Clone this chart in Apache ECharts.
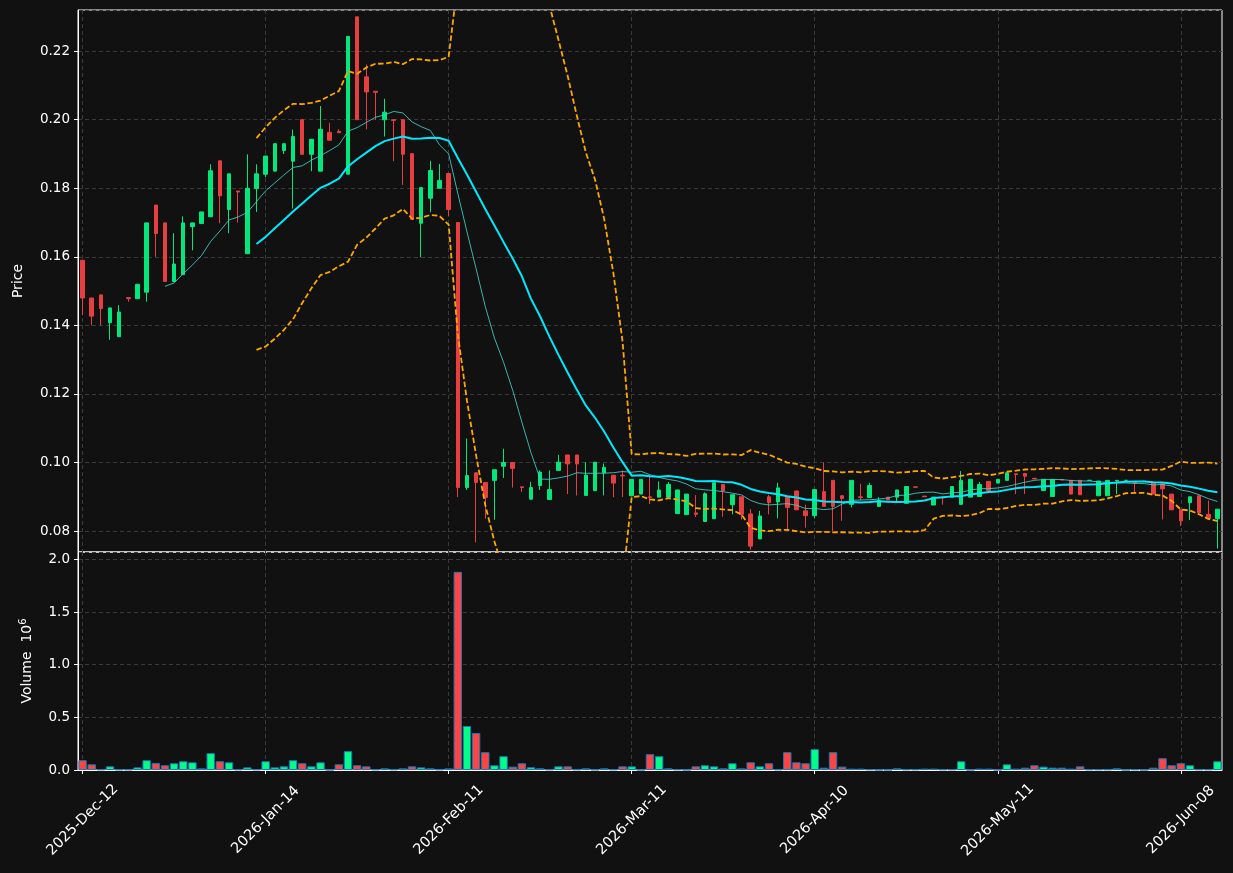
<!DOCTYPE html>
<html lang="en">
<head>
	<meta charset="UTF-8">
	<title>Candles</title>
	<style type="text/css">
		html, body { margin: 0; padding: 0; background: #111111; }
		#chart { width: 1233px; height: 873px; }
	</style>
</head>
<body>
	<div id="chart"></div>
	<script type="text/javascript" src="https://cdn.jsdelivr.net/npm/echarts@6/dist/echarts.min.js"></script>
	<script type="text/javascript">
	// price data, one value per trading day
	var opens = [0.159,0.148,0.1489,0.1408,0.1367,0.1481,0.1478,0.1497,0.1751,0.1699,
		0.1528,0.1548,0.1688,0.1697,0.1717,0.188,0.1738,0.1792,0.1609,0.1799,
		0.1841,0.185,0.191,0.1879,0.200,0.1899,0.185,0.1963,0.1966,0.1841,
		0.230,0.2125,0.2083,0.200,0.200,0.200,0.1901,0.1698,0.1771,0.180,
		0.1843,0.170,0.0927,0.0970,0.0942,0.0948,0.0989,0.1000,0.0929,0.0893,
		0.0933,0.0892,0.0977,0.1022,0.1022,0.0904,0.0918,0.0970,0.0963,0.0963,
		0.0903,0.0908,0.0900,0.0899,0.0899,0.0851,0.0848,0.0853,0.0828,0.0836,
		0.0936,0.0877,0.0900,0.0850,0.0777,0.0900,0.0885,0.0900,0.0917,0.0859,
		0.0845,0.0915,0.0948,0.0903,0.0878,0.0900,0.0898,0.0872,0.0899,0.0899,
		0.0881,0.0929,0.0902,0.0876,0.0899,0.0899,0.0878,0.0899,0.0901,0.0945,
		0.0940,0.0948,0.0967,0.0968,0.0954,0.0918,0.0901,0.0950,0.0948,0.0948,
		0.0948,0.0903,0.0903,0.0946,0.0948,0.0942,0.0945,0.0941,0.0938,0.0908,
		0.0862,0.0883,0.0903,0.0849,0.0836];
	var closes = [0.148,0.1427,0.1449,0.1451,0.1439,0.1478,0.152,0.1699,0.1668,0.1528,
		0.1579,0.1699,0.1699,0.1731,0.1851,0.1778,0.1842,0.1789,0.180,0.1842,
		0.1894,0.193,0.193,0.1951,0.1899,0.1943,0.1972,0.194,0.1962,0.2243,
		0.200,0.2081,0.208,0.2022,0.1998,0.1899,0.1709,0.1802,0.1852,0.1823,
		0.1738,0.0927,0.0962,0.0942,0.0898,0.0979,0.1000,0.0983,0.0927,0.0927,
		0.0972,0.0921,0.1001,0.0996,0.0996,0.0963,0.1001,0.0986,0.0940,0.0961,
		0.0951,0.0951,0.0898,0.0920,0.0936,0.0920,0.0908,0.0849,0.0909,0.0941,
		0.0918,0.0906,0.0849,0.0756,0.0844,0.0883,0.0926,0.0869,0.0862,0.0845,
		0.0921,0.0872,0.0872,0.0895,0.0948,0.0898,0.0933,0.0889,0.0891,0.0920,
		0.0930,0.0928,0.0900,0.0899,0.0897,0.0930,0.0948,0.0951,0.0936,0.0918,
		0.0951,0.0970,0.0965,0.0960,0.0952,0.0951,0.0951,0.0949,0.0908,0.0906,
		0.0948,0.0946,0.0948,0.0948,0.0948,0.0940,0.0945,0.0908,0.0923,0.0862,
		0.0830,0.0900,0.0854,0.0837,0.0864];
	var lows = [0.143,0.140,0.140,0.1358,0.1367,0.1469,0.1478,0.1469,0.160,0.1528,
		0.1528,0.1548,0.1619,0.1697,0.1717,0.1698,0.1669,0.1700,0.1609,0.1731,
		0.1832,0.185,0.190,0.1741,0.1899,0.185,0.185,0.194,0.1962,0.1841,
		0.200,0.1972,0.200,0.1951,0.1879,0.181,0.1709,0.1599,0.173,0.180,
		0.1719,0.0899,0.0920,0.0767,0.0836,0.0833,0.0955,0.0927,0.0914,0.0893,
		0.0920,0.0892,0.0977,0.0908,0.0904,0.0904,0.0918,0.0904,0.0899,0.0899,
		0.0903,0.0908,0.0879,0.0899,0.0899,0.0851,0.0848,0.0841,0.0828,0.0836,
		0.0842,0.0849,0.0834,0.0746,0.0777,0.0849,0.0837,0.0800,0.0862,0.0810,
		0.0837,0.0872,0.0800,0.0830,0.0869,0.0889,0.0898,0.0872,0.0891,0.0884,
		0.0881,0.0928,0.0900,0.0876,0.0877,0.0899,0.0878,0.0899,0.0901,0.0918,
		0.0940,0.0948,0.0908,0.0908,0.0952,0.0918,0.0901,0.0949,0.0908,0.0906,
		0.0948,0.0903,0.0903,0.0908,0.0948,0.0913,0.0945,0.0908,0.0834,0.0862,
		0.0815,0.0832,0.0854,0.0837,0.0749];
	var highs = [0.159,0.148,0.149,0.1451,0.1459,0.1481,0.152,0.170,0.1751,0.1699,
		0.1669,0.1718,0.170,0.1731,0.187,0.188,0.1842,0.1792,0.1899,0.187,
		0.1894,0.193,0.193,0.1971,0.200,0.1943,0.204,0.1991,0.1972,0.2243,
		0.230,0.2161,0.2083,0.2061,0.200,0.200,0.1901,0.1802,0.188,0.1871,
		0.1843,0.170,0.1070,0.0970,0.0942,0.0979,0.1040,0.1000,0.0929,0.0944,
		0.0977,0.0977,0.1022,0.1022,0.1022,0.1001,0.1001,0.0997,0.0963,0.0977,
		0.0951,0.0951,0.0958,0.0945,0.0943,0.0920,0.0908,0.0905,0.0913,0.0941,
		0.0936,0.0906,0.0900,0.0864,0.0859,0.0906,0.0941,0.0900,0.0917,0.0877,
		0.0921,0.1000,0.0948,0.0903,0.0948,0.0938,0.0941,0.0899,0.0899,0.0920,
		0.0930,0.0929,0.0902,0.0899,0.0899,0.0930,0.0975,0.0951,0.0943,0.0945,
		0.0951,0.0970,0.0967,0.0968,0.0954,0.0951,0.0951,0.0950,0.0948,0.0948,
		0.0948,0.0946,0.0948,0.0948,0.0948,0.0942,0.0945,0.0941,0.0938,0.0908,
		0.0862,0.0900,0.0903,0.0889,0.0864];
	// volume in millions
	var volumes = [0.093,0.054,0.006,0.035,0.005,0.005,0.025,0.093,0.067,0.045,
		0.064,0.083,0.073,0.016,0.160,0.083,0.073,0.006,0.025,0.006,
		0.083,0.025,0.035,0.093,0.064,0.035,0.073,0.002,0.054,0.179,
		0.045,0.035,0.006,0.016,0.006,0.016,0.035,0.025,0.016,0.006,
		0.016,1.882,0.418,0.351,0.169,0.045,0.131,0.032,0.064,0.026,
		0.016,0.006,0.035,0.035,0.006,0.016,0.004,0.016,0.006,0.035,
		0.035,0.002,0.150,0.131,0.016,0.006,0.002,0.035,0.045,0.035,
		0.016,0.064,0.016,0.073,0.035,0.064,0.006,0.169,0.073,0.064,
		0.198,0.022,0.169,0.032,0.013,0.013,0.006,0.002,0.002,0.016,
		0.006,0.006,0.013,0.013,0.006,0.006,0.083,0.002,0.013,0.013,
		0.002,0.054,0.013,0.022,0.045,0.032,0.022,0.022,0.013,0.035,
		0.006,0.006,0.006,0.016,0.002,0.006,0.002,0.022,0.112,0.045,
		0.064,0.045,0.006,0.006,0.083];
	// date labels shown every 20 bars
	var tickLabels = ['2025-Dec-12','2026-Jan-14','2026-Feb-11','2026-Mar-11','2026-Apr-10','2026-May-11','2026-Jun-08'];
	var tickStep = 20;

	var upCandle = '#02e77c', downCandle = '#e73f3f';
	var upVol = '#00ff88', downVol = '#ff4444';
	var gridLine = { show: true, lineStyle: { color: '#3a3a3a', type: [4, 3], width: 1 } };
	var textColor = '#ffffff';
	var font = 'DejaVu Sans';

	var cats = [], candles = [], vols = [];
	for (var i = 0; i < closes.length; i++) {
		cats.push(String(i));
		candles.push([opens[i], closes[i], lows[i], highs[i]]);
		vols.push({ value: volumes[i], itemStyle: { color: closes[i] >= opens[i] ? upVol : downVol } });
	}

	// rolling mean / std of closes
	function rolling(n, k) {
		var out = [];
		for (var i = 0; i < closes.length; i++) {
			if (i < n - 1) { out.push('-'); continue; }
			var s = 0;
			for (var j = i - n + 1; j <= i; j++) s += closes[j];
			var m = s / n;
			if (k === 0) { out.push(m); continue; }
			var v = 0;
			for (var j = i - n + 1; j <= i; j++) v += (closes[j] - m) * (closes[j] - m);
			out.push(m + k * Math.sqrt(v / (n - 1)));
		}
		return out;
	}

	function onTick(idx) { return idx % tickStep === 0; }

	var myChart = echarts.init(document.getElementById('chart'));
	var option = {
		backgroundColor: '#111111',
		animation: false,
		textStyle: { fontFamily: font },
		grid: [
			{ left: 78, right: 11, top: 10, height: 542, show: true, borderColor: '#ffffff', borderWidth: 1 },
			{ left: 78, right: 11, top: 552, height: 218, show: true, borderColor: '#ffffff', borderWidth: 1 }
		],
		xAxis: [
			{
				type: 'category', gridIndex: 0, data: cats, boundaryGap: true,
				axisLine: { show: false }, axisTick: { show: false }, axisLabel: { show: false },
				splitLine: { show: true, interval: onTick, alignWithLabel: true, lineStyle: gridLine.lineStyle }
			},
			{
				type: 'category', gridIndex: 1, data: cats, boundaryGap: true,
				axisLine: { show: true, lineStyle: { color: '#ffffff' } },
				axisTick: { show: true, interval: onTick, alignWithLabel: true, length: 4, lineStyle: { color: '#ffffff' } },
				axisLabel: {
					interval: onTick, rotate: 45, align: 'center', verticalAlign: 'middle',
					color: textColor, fontSize: 14.5, fontFamily: font, margin: 50,
					formatter: function (v, idx) { return tickLabels[idx / tickStep] || ''; }
				},
				splitLine: { show: true, interval: onTick, alignWithLabel: true, lineStyle: gridLine.lineStyle }
			}
		],
		yAxis: [
			{
				type: 'value', gridIndex: 0, min: 0.0739, max: 0.232, splitNumber: 8, scale: true,
				name: 'Price', nameLocation: 'middle', nameGap: 53, nameRotate: 90,
				nameTextStyle: { color: textColor, fontSize: 14, fontFamily: font },
				axisLine: { show: true, lineStyle: { color: '#ffffff' } },
				axisTick: { show: true, length: 4, lineStyle: { color: '#ffffff' } },
				axisLabel: { color: textColor, fontSize: 13.5, fontFamily: font, showMinLabel: false, showMaxLabel: false,
					formatter: function (v) { return v.toFixed(2); } },
				splitLine: gridLine
			},
			{
				type: 'value', gridIndex: 1, min: 0, max: 2.07, interval: 0.5,
				name: 'Volume  10{s|6}', nameLocation: 'middle', nameGap: 42, nameRotate: 90,
				nameTextStyle: { color: textColor, fontSize: 14, fontFamily: font,
					rich: { s: { fontSize: 10, verticalAlign: 'top', padding: [0, 0, 8, 0], color: textColor } } },
				axisLine: { show: true, lineStyle: { color: '#ffffff' } },
				axisTick: { show: true, length: 4, lineStyle: { color: '#ffffff' } },
				axisLabel: { color: textColor, fontSize: 13.5, fontFamily: font, showMaxLabel: false,
					formatter: function (v) { return v.toFixed(1); } },
				splitLine: gridLine
			}
		],
		series: [
			{
				type: 'candlestick', xAxisIndex: 0, yAxisIndex: 0, data: candles, barWidth: 4,
				itemStyle: { color: upCandle, color0: downCandle, borderColor: upCandle, borderColor0: downCandle, borderWidth: 1 }
			},
			{
				type: 'line', xAxisIndex: 0, yAxisIndex: 0, data: rolling(10, 0), symbol: 'none',
				lineStyle: { color: '#3fd0c8', width: 1, opacity: 0.85 }
			},
			{
				type: 'line', xAxisIndex: 0, yAxisIndex: 0, data: rolling(20, 0), symbol: 'none',
				lineStyle: { color: '#00e8ff', width: 2 }
			},
			{
				type: 'line', xAxisIndex: 0, yAxisIndex: 0, data: rolling(20, 2), symbol: 'none', clip: true,
				lineStyle: { color: '#ffa500', width: 1.8, type: [5.5, 2.6] }
			},
			{
				type: 'line', xAxisIndex: 0, yAxisIndex: 0, data: rolling(20, -2), symbol: 'none', clip: true,
				lineStyle: { color: '#ffa500', width: 1.8, type: [5.5, 2.6] }
			},
			{
				type: 'bar', xAxisIndex: 1, yAxisIndex: 1, data: vols, barCategoryGap: '8%',
				itemStyle: { borderColor: '#1f77b4', borderWidth: 1 }
			}
		]
	};
	myChart.setOption(option);
	</script>
</body>
</html>
